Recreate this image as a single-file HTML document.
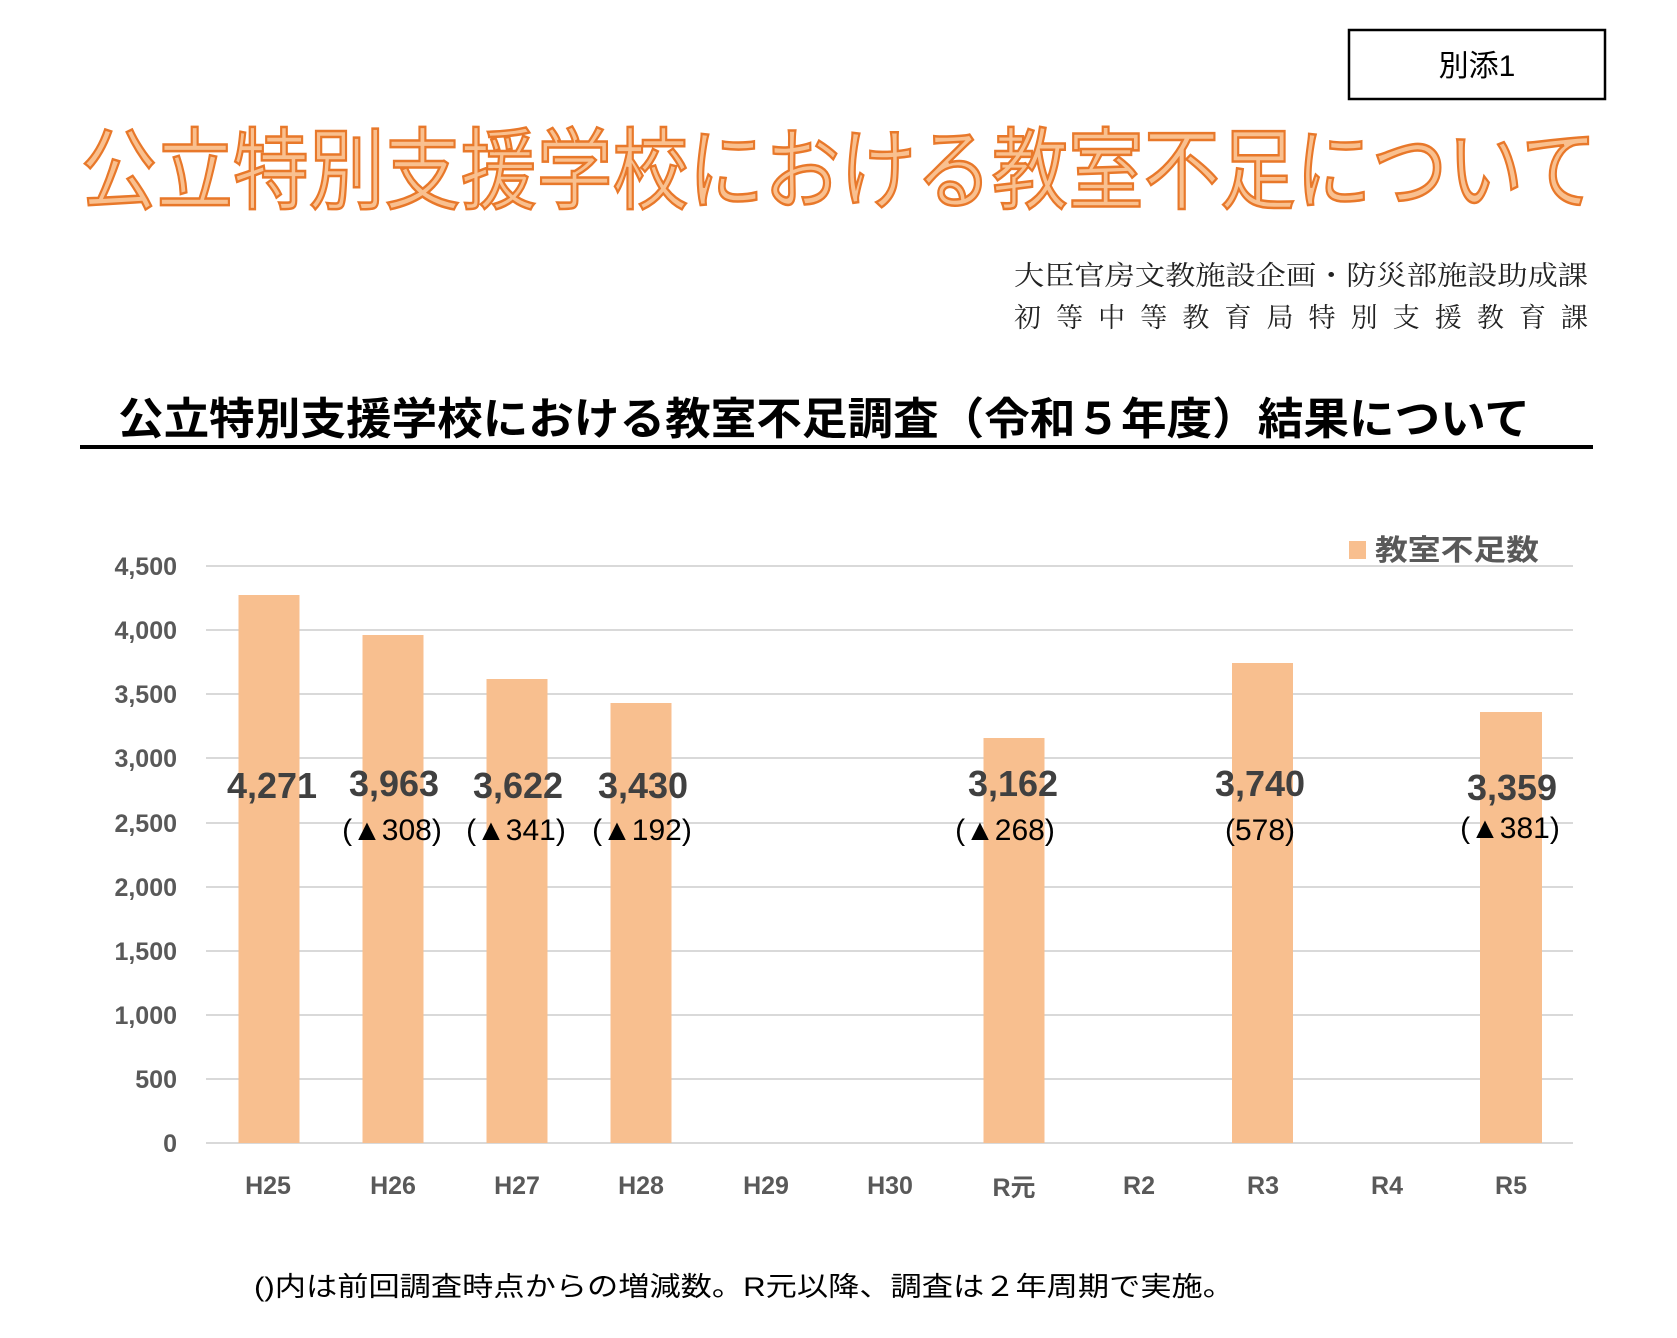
<!DOCTYPE html>
<html><head><meta charset="utf-8"><style>
body{margin:0;background:#fff;width:1677px;height:1338px;overflow:hidden}
svg{display:block}
</style></head><body>
<svg width="1677" height="1338" xmlns="http://www.w3.org/2000/svg" font-family="'Liberation Sans','Noto Sans CJK JP',sans-serif">
<rect x="1349" y="30" width="256" height="69" fill="#fff" stroke="#000" stroke-width="2.5"/>
<text x="1477" y="76" font-size="30" text-anchor="middle" fill="#000">別添1</text>
<text x="839" y="202" font-size="89" text-anchor="middle" fill="#f9c08f" stroke="#e8782a" stroke-width="2.5" textLength="1516" lengthAdjust="spacingAndGlyphs">公立特別支援学校における教室不足について</text>
<text x="1588" y="285" font-size="27" text-anchor="end" fill="#222" font-family="'Noto Serif CJK SC',serif" textLength="574" lengthAdjust="spacingAndGlyphs">大臣官房文教施設企画・防災部施設助成課</text>
<text x="1588" y="327" font-size="27" text-anchor="end" fill="#222" font-family="'Noto Serif CJK SC',serif" textLength="574" lengthAdjust="spacing">初等中等教育局特別支援教育課</text>
<text x="824" y="434" font-size="44" font-weight="bold" text-anchor="middle" fill="#000" textLength="1412" lengthAdjust="spacingAndGlyphs">公立特別支援学校における教室不足調査（令和５年度）結果について</text>
<rect x="80" y="445" width="1513" height="4" fill="#000"/>
<g stroke="#d9d9d9" stroke-width="2">
<line x1="206" x2="1573" y1="566" y2="566"/><line x1="206" x2="1573" y1="630" y2="630"/>
<line x1="206" x2="1573" y1="694" y2="694"/><line x1="206" x2="1573" y1="758" y2="758"/>
<line x1="206" x2="1573" y1="823" y2="823"/><line x1="206" x2="1573" y1="887" y2="887"/>
<line x1="206" x2="1573" y1="951" y2="951"/><line x1="206" x2="1573" y1="1015" y2="1015"/>
<line x1="206" x2="1573" y1="1079" y2="1079"/><line x1="206" x2="1573" y1="1143" y2="1143"/>
</g>
<g font-size="25" font-weight="bold" fill="#595959" text-anchor="end">
<text x="177" y="575">4,500</text><text x="177" y="639">4,000</text><text x="177" y="703">3,500</text>
<text x="177" y="767">3,000</text><text x="177" y="832">2,500</text><text x="177" y="896">2,000</text>
<text x="177" y="960">1,500</text><text x="177" y="1024">1,000</text><text x="177" y="1088">500</text>
<text x="177" y="1152">0</text>
</g>
<g fill="#f8bf8f">
<rect x="238.5" y="595" width="61" height="548"/>
<rect x="362.5" y="635" width="61" height="508"/>
<rect x="486.5" y="679" width="61" height="464"/>
<rect x="610.5" y="703" width="61" height="440"/>
<rect x="983.5" y="738" width="61" height="405"/>
<rect x="1232" y="663" width="61" height="480"/>
<rect x="1480" y="712" width="62" height="431"/>
</g>
<g font-size="25" font-weight="bold" fill="#595959" text-anchor="middle">
<text x="268" y="1194">H25</text><text x="393" y="1194">H26</text><text x="517" y="1194">H27</text>
<text x="641" y="1194">H28</text><text x="766" y="1194">H29</text><text x="890" y="1194">H30</text>
<text x="1014" y="1196">R元</text><text x="1139" y="1194">R2</text><text x="1263" y="1194">R3</text>
<text x="1387" y="1194">R4</text><text x="1511" y="1194">R5</text>
</g>
<g font-size="36" font-weight="bold" fill="#404040" text-anchor="middle">
<text x="272" y="798">4,271</text><text x="394" y="796">3,963</text><text x="518" y="798">3,622</text>
<text x="643" y="798">3,430</text><text x="1013" y="796">3,162</text><text x="1260" y="796">3,740</text>
<text x="1512" y="800">3,359</text>
</g>
<g font-size="30" fill="#000" text-anchor="middle">
<text x="392" y="840">(▲308)</text><text x="516" y="840">(▲341)</text><text x="642" y="840">(▲192)</text>
<text x="1005" y="840">(▲268)</text><text x="1260" y="840">(578)</text><text x="1510" y="838">(▲381)</text>
</g>
<rect x="1349" y="541" width="17" height="18" fill="#f8bf8f"/>
<text x="1375" y="560" font-size="29" font-weight="bold" fill="#595959" textLength="164" lengthAdjust="spacingAndGlyphs">教室不足数</text>
<text x="254" y="1296" font-size="27" fill="#000" textLength="980" lengthAdjust="spacingAndGlyphs">()内は前回調査時点からの増減数。R元以降、調査は２年周期で実施。</text>
</svg>
</body></html>
